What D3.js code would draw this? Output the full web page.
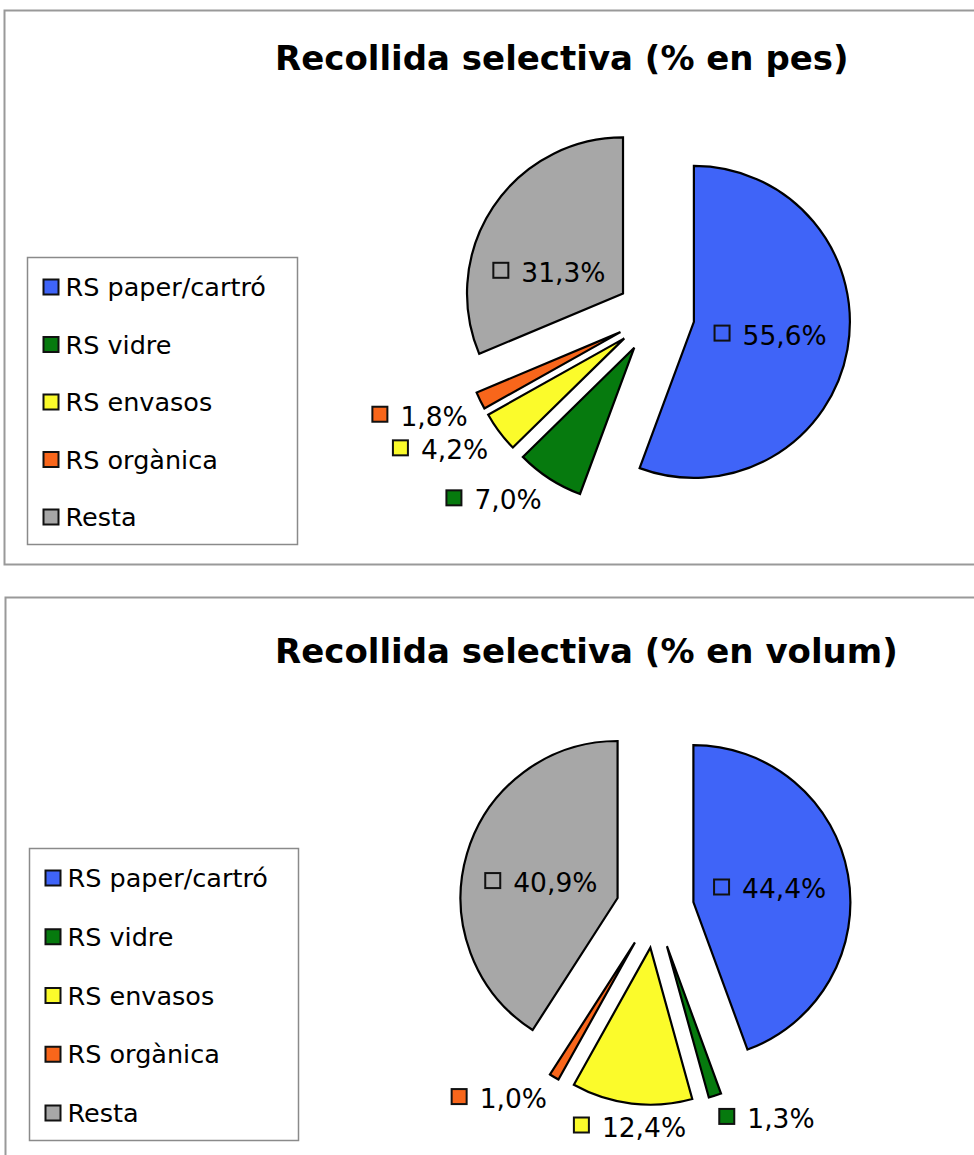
<!DOCTYPE html>
<html>
<head>
<meta charset="utf-8">
<script src="https://cdn.jsdelivr.net/npm/d3@7"></script>
<style>
  html, body { margin: 0; padding: 0; background: #ffffff; }
  svg { display: block; }
</style>
</head>
<body>
<script>
// ---- data ----
const categories = ["RS paper/cartró", "RS vidre", "RS envasos", "RS orgànica", "Resta"];
const pesValues = [55.6, 7.0, 4.2, 1.8, 31.3];
const volumValues = [44.4, 1.3, 12.4, 1.0, 40.9];
const titles = ["Recollida selectiva (% en pes)", "Recollida selectiva (% en volum)"];
const colors = ["#3f64f8", "#067a0e", "#fbfb2b", "#f8661b", "#a7a7a7"];

// ---- layout (styles only) ----
const panels = [
  { title: titles[0], values: pesValues, frame: [4.5, 10.5, 1000, 554], titleY: 70,
    cx: 655.5, cy: 315, r: 156, legend: [27.5, 257.5, 270, 287] },
  { title: titles[1], values: volumValues, frame: [5.5, 597.5, 1000, 600], titleY: 663,
    cx: 655, cy: 909, r: 157, legend: [29.5, 848.5, 269, 292] }
];
const explode = 39;
const sq = 15, gap = 13, fontLabel = 26.5, fontLegend = 25.5;

const svg = d3.select("body").append("svg").attr("width", 974).attr("height", 1155);

const fmt = v => d3.format(".1f")(v).replace(".", ",") + "%";

panels.forEach(p => {
  const g = svg.append("g");
  // frame
  g.append("rect")
    .attr("x", p.frame[0]).attr("y", p.frame[1])
    .attr("width", p.frame[2]).attr("height", p.frame[3])
    .attr("fill", "#fff").attr("stroke", "#999").attr("stroke-width", 2);

  // title
  g.append("text")
    .attr("x", 275).attr("y", p.titleY)
    .attr("font-family", "DejaVu Sans, Verdana, sans-serif")
    .attr("font-weight", "bold").attr("font-size", 34)
    .attr("fill", "#000")
    .text(p.title);

  // legend
  const [lx, ly, lw, lh] = p.legend;
  g.append("rect").attr("x", lx).attr("y", ly).attr("width", lw).attr("height", lh)
    .attr("fill", "#fff").attr("stroke", "#8a8a8a").attr("stroke-width", 1.5);
  const ys = d3.scalePoint().domain(categories).range([ly + 29.5, ly + lh - 27.5]);
  const items = g.selectAll("g.leg").data(categories).join("g").attr("class", "leg")
    .attr("transform", d => `translate(${lx + 16},${ys(d)})`);
  items.append("rect").attr("x", 0).attr("y", -sq / 2).attr("width", sq).attr("height", sq)
    .attr("fill", (d, i) => colors[i]).attr("stroke", "#111").attr("stroke-width", 2);
  items.append("text").attr("x", 22).attr("y", 9)
    .attr("font-family", "DejaVu Sans, Verdana, sans-serif").attr("font-size", fontLegend)
    .attr("fill", "#000").text(d => d);

  // pie
  const pie = d3.pie().sort(null).value(d => d)(p.values);
  const arc = d3.arc().innerRadius(0).outerRadius(p.r);
  const pg = g.append("g").attr("transform", `translate(${p.cx},${p.cy})`);
  pie.forEach((s, i) => {
    const mid = (s.startAngle + s.endAngle) / 2;
    const dx = Math.sin(mid) * explode, dy = -Math.cos(mid) * explode;
    pg.append("path").attr("d", arc(s))
      .attr("transform", `translate(${dx},${dy})`)
      .attr("fill", colors[i]).attr("stroke", "#000").attr("stroke-width", 2.2)
      .attr("stroke-linejoin", "miter");
  });

  // labels
  pie.forEach((s, i) => {
    const mid = (s.startAngle + s.endAngle) / 2;
    const inside = s.data >= 20;
    const dist = inside ? explode + 21 : p.r + explode + 14;
    const ax = Math.sin(mid) * dist, ay = -Math.cos(mid) * dist;
    const lg = pg.append("g");
    lg.append("rect").attr("x", 0).attr("y", 0).attr("width", sq).attr("height", sq)
      .attr("fill", colors[i]).attr("stroke", "#111").attr("stroke-width", 2);
    const t = lg.append("text").attr("x", sq + gap).attr("y", 19)
      .attr("font-family", "DejaVu Sans, Verdana, sans-serif").attr("font-size", fontLabel)
      .attr("fill", "#000").text(fmt(s.data));
    const w = sq + gap + t.node().getComputedTextLength();
    const h = 19;
    const sx = Math.sin(mid), cy = -Math.cos(mid);
    let ox = sx > 0.2 ? 0 : (sx < -0.2 ? -w : -w / 2);
    let oy = cy > 0.1 ? 0 : (cy < -0.1 ? -h : -h / 2);
    lg.attr("transform", `translate(${ax + ox},${ay + oy})`);
  });
});
</script>
</body>
</html>
